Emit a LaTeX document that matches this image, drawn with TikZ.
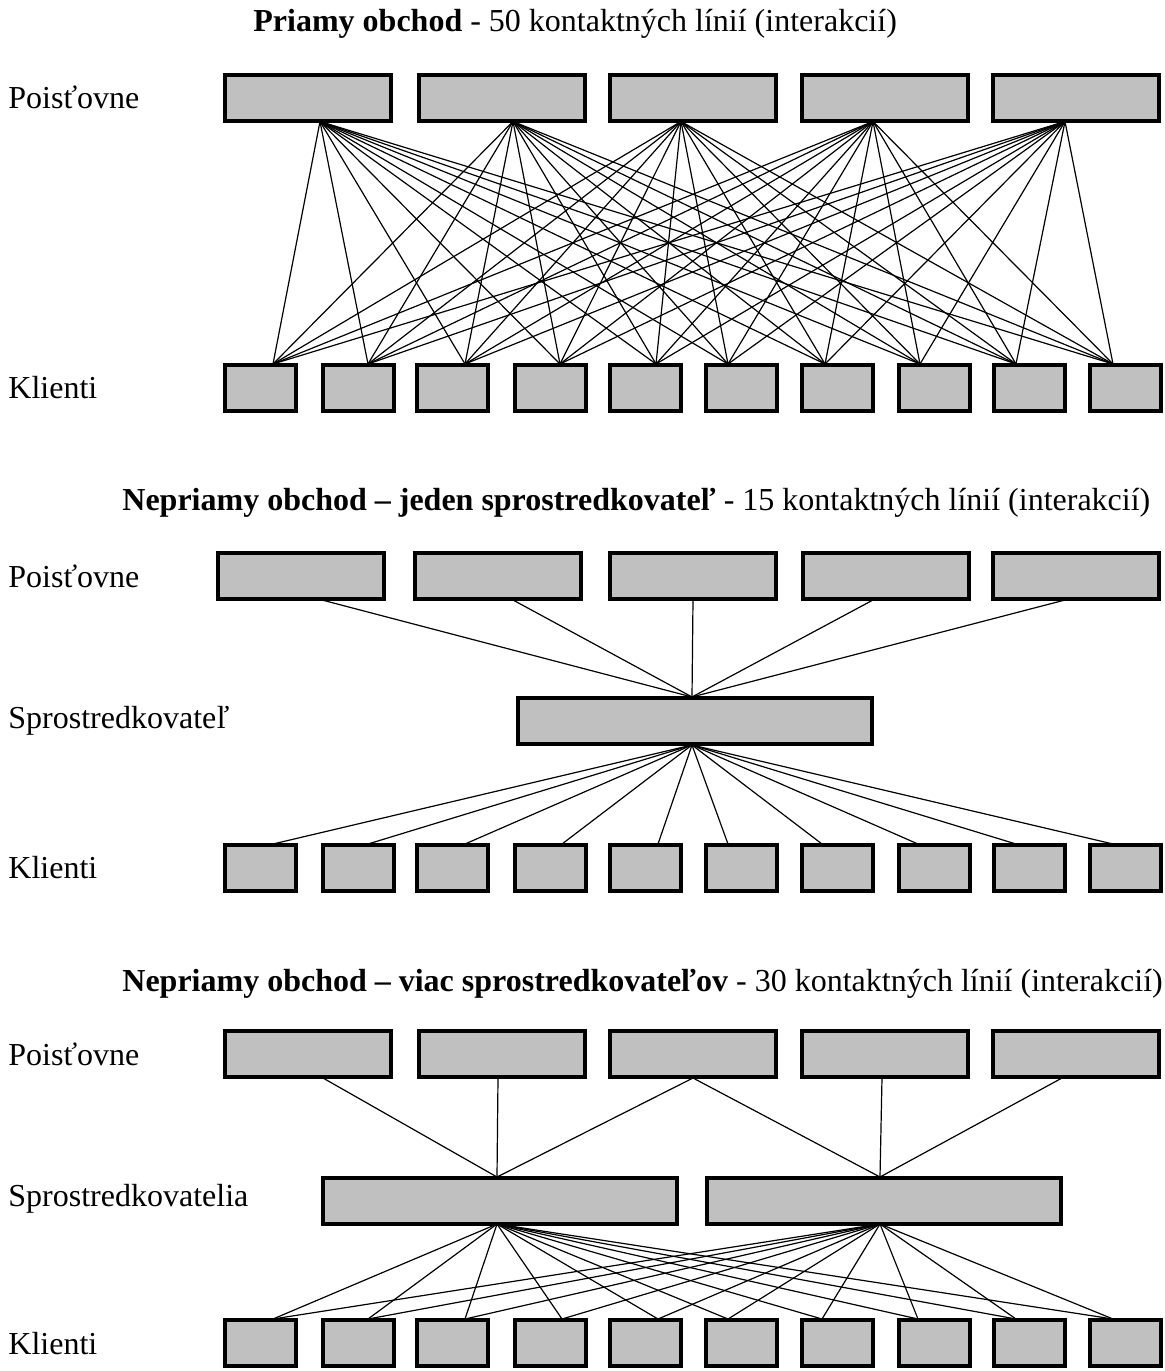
\documentclass[tikz,border=0pt]{standalone}
\usepackage{fontspec}
\setmainfont{Liberation Serif}
\definecolor{boxgray}{HTML}{C0C0C0}
\begin{document}
\begin{tikzpicture}[x=0.5pt,y=-0.5pt,
  gbox/.style={draw=black,fill=boxgray,line width=2pt,inner sep=0pt,minimum height=23pt},
  ibox/.style={gbox,minimum width=83pt},
  kbox/.style={gbox,minimum width=35.5pt},
  mbox/.style={gbox,minimum width=177pt},
  conn/.style={line width=0.6pt,black},
  lbl/.style={anchor=west,inner sep=0pt,font=\fontsize{16}{19}\selectfont},
  ttl/.style={anchor=west,inner sep=0pt,font=\fontsize{16}{19}\selectfont}]
\useasboundingbox (0,0) rectangle (1164,1371);

% ---------------- Section 1 ----------------
\node[ttl] (t1) at (253,24) {\textbf{Priamy obchod} - 50 kontaktných línií (interakcií)};
\node[lbl] (l1p) at (8,97) {Poisťovne};
\node[lbl] (l1k) at (8,388) {Klienti};

\foreach \i/\cx/\ax in {1/308/320,2/501.5/513,3/693/681,4/884.5/873,5/1075.5/1065}{
  \node[ibox] (Ap\i) at (\cx,97.5) {};
  \coordinate (Apa\i) at (\ax,121.5);
}
\foreach \i/\cx/\ax in {1/260.5/273,2/358.5/368,3/452/465,4/550.5/560,5/645.5/656,6/741.5/728,7/837.5/825,8/934.5/920,9/1029.5/1016,10/1125/1113}{
  \node[kbox] (Ak\i) at (\cx,388) {};
  \coordinate (Aka\i) at (\ax,364);
}
\foreach \i in {1,...,5}{
  \foreach \j in {1,...,10}{
    \draw[conn] (Apa\i) -- (Aka\j);
  }
}

% ---------------- Section 2 ----------------
\node[ttl] (t2) at (122,503) {\textbf{Nepriamy obchod – jeden sprostredkovateľ} - 15 kontaktných línií (interakcií)};
\node[lbl] (l2p) at (8,576) {Poisťovne};
\node[lbl] (l2s) at (8,721) {Sprostredkovateľ};
\node[lbl] (l2k) at (8,868) {Klienti};

\foreach \i/\cx/\ax in {1/301/322,2/498/513,3/693/693,4/885.5/873,5/1076/1065}{
  \node[ibox] (Bp\i) at (\cx,576) {};
  \coordinate (Bpa\i) at (\ax,600);
}
\node[mbox] (Bm) at (695,721) {};
\coordinate (Bmt) at (692,697);
\coordinate (Bmb) at (692,745);
\foreach \i/\cx/\ax in {1/260.5/273,2/358.5/368,3/452/465,4/550.5/562,5/645.5/658,6/741.5/728,7/837.5/822,8/934.5/918,9/1029.5/1016,10/1125/1113}{
  \node[kbox] (Bk\i) at (\cx,867.5) {};
  \coordinate (Bka\i) at (\ax,844);
}
\foreach \i in {1,...,5}{ \draw[conn] (Bpa\i) -- (Bmt); }
\foreach \j in {1,...,10}{ \draw[conn] (Bmb) -- (Bka\j); }

% ---------------- Section 3 ----------------
\node[ttl] (t3) at (122,984) {\textbf{Nepriamy obchod – viac sprostredkovateľov} - 30 kontaktných línií (interakcií)};
\node[lbl] (l3p) at (8,1054) {Poisťovne};
\node[lbl] (l3s) at (8,1199) {Sprostredkovatelia};
\node[lbl] (l3k) at (8,1344) {Klienti};

\foreach \i/\cx/\ax in {1/308/323,2/501.5/498,3/693/693,4/884.5/882,5/1075.5/1062}{
  \node[ibox] (Cp\i) at (\cx,1054) {};
  \coordinate (Cpa\i) at (\ax,1078);
}
\node[mbox] (Cm1) at (499.5,1200.5) {};
\node[mbox] (Cm2) at (884,1200.5) {};
\coordinate (Cm1t) at (497,1177);
\coordinate (Cm1b) at (497,1224);
\coordinate (Cm2t) at (880,1177);
\coordinate (Cm2b) at (880,1224);
\foreach \i/\cx/\ax in {1/260.5/273,2/358.5/368,3/452/465,4/550.5/562,5/645.5/658,6/741.5/728,7/837.5/822,8/934.5/918,9/1029.5/1016,10/1125/1113}{
  \node[kbox] (Ck\i) at (\cx,1343) {};
  \coordinate (Cka\i) at (\ax,1319);
}
\draw[conn] (Cpa1) -- (Cm1t);
\draw[conn] (Cpa2) -- (Cm1t);
\draw[conn] (Cpa3) -- (Cm1t);
\draw[conn] (Cpa3) -- (Cm2t);
\draw[conn] (Cpa4) -- (Cm2t);
\draw[conn] (Cpa5) -- (Cm2t);
\foreach \j in {1,...,10}{
  \draw[conn] (Cm1b) -- (Cka\j);
  \draw[conn] (Cm2b) -- (Cka\j);
}
\end{tikzpicture}
\end{document}
